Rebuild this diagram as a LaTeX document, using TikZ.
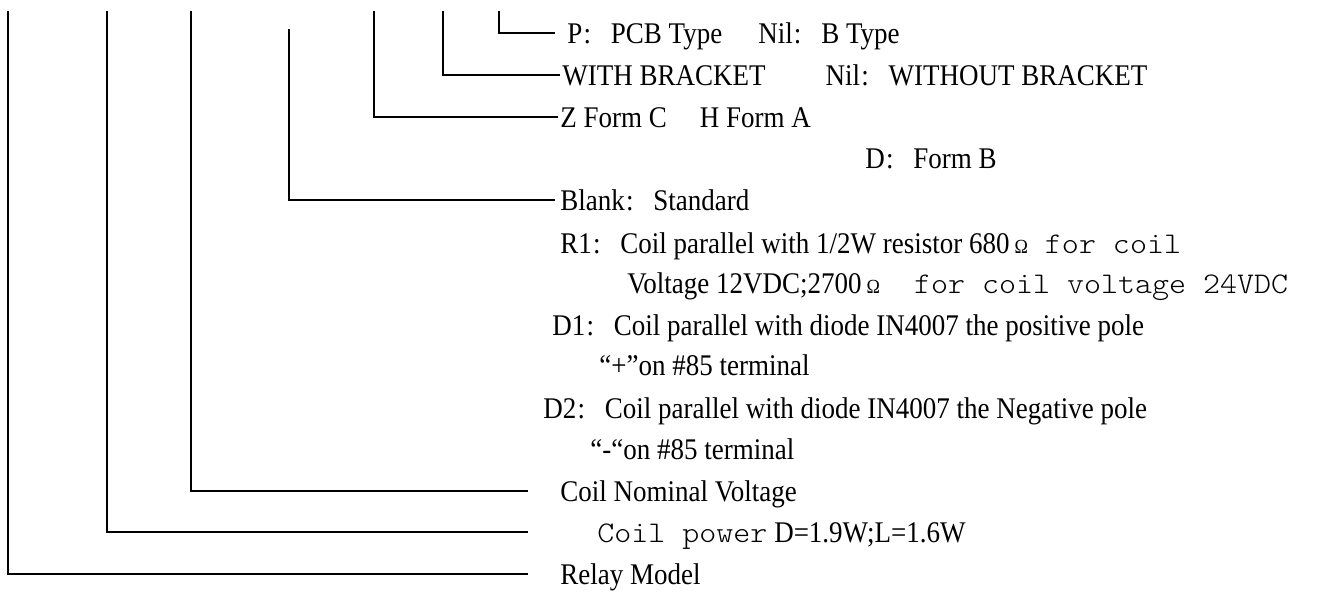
\documentclass[tikz,border=0pt]{standalone}
\usepackage{fontspec}
\setmainfont{Liberation Serif}[FakeStretch=0.9]
\newfontfamily\monof{lmmonolt10-regular.otf}[FakeStretch=1.08]
\newcommand\cc{\makebox[0.95em][l]{\hspace{0.04em}:}}
\newcommand\ohm{\,{\fontsize{10pt}{10pt}\selectfont Ω}}
\begin{document}
\begin{tikzpicture}[x=0.5pt,y=-0.5pt,
  txt/.style={anchor=west, inner sep=0pt, text height=10pt, text depth=0pt,
    font=\fontsize{15pt}{18pt}\selectfont},
  lead/.style={line width=1pt}]
\useasboundingbox (0,0) rectangle (1322,594);
% text rows
\node[txt] (p)     at (567,33)  {P\cc PCB Type\hspace{1.2em}Nil\cc B Type};
\node[txt] (with)  at (562,75)  {WITH BRACKET\hspace{2em}Nil\cc WITHOUT BRACKET};
\node[txt] (z)     at (560,117) {Z Form C\hspace{1.1em}H Form A};
\node[txt] (d)     at (865,158) {D\cc Form B};
\node[txt] (blank) at (560,200) {Blank\cc Standard};
\node[txt] (r1)    at (560,243) {R1\cc Coil parallel with 1/2W resistor 680\ohm{\monof\ for coil}};
\node[txt] (r1b)   at (627,283) {Voltage 12VDC;2700\ohm{\monof\ \ for coil voltage 24VDC}};
\node[txt] (d1)    at (552,325) {D1\cc Coil parallel with diode IN4007 the positive pole};
\node[txt] (d1b)   at (599,365) {“+”on \#85 terminal};
\node[txt] (d2)    at (543,408) {D2\cc Coil parallel with diode IN4007 the Negative pole};
\node[txt] (d2b)   at (590,449) {“-“on \#85 terminal};
\node[txt] (cnv)   at (560,491) {Coil Nominal Voltage};
\node[txt] (cp)    at (597,532) {{\monof Coil power} D=1.9W;L=1.6W};
\node[txt] (relay) at (560,574) {Relay Model};
% tops of the leader lines
\coordinate (t1) at (8,11);
\coordinate (t2) at (107,11);
\coordinate (t3) at (191,11);
\coordinate (t4) at (289,29);
\coordinate (t5) at (374,11);
\coordinate (t6) at (443,11);
\coordinate (t7) at (499,11);
% leaders
\draw[lead] (t1) |- ([xshift=-16pt]relay.west);
\draw[lead] (t2) |- ([xshift=-34.5pt]cp.west);
\draw[lead] (t3) |- ([xshift=-16pt]cnv.west);
\draw[lead] (t4) |- ([xshift=-2.5pt]blank.west);
\draw[lead] (t5) |- ([xshift=-1pt]z.west);
\draw[lead] (t6) |- ([xshift=-1pt]with.west);
\draw[lead] (t7) |- ([xshift=-6pt]p.west);
\end{tikzpicture}
\end{document}
